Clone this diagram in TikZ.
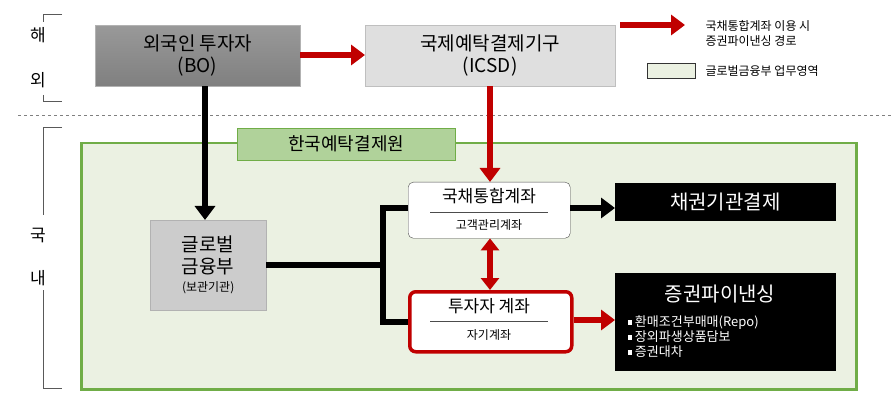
\documentclass[tikz,border=0pt]{standalone}
\usepackage{fontspec}
\setmainfont{Noto Sans CJK KR}
\usetikzlibrary{arrows.meta}
\definecolor{gfill}{RGB}{235,241,226}
\definecolor{gline}{RGB}{112,173,71}
\definecolor{rarr}{RGB}{192,0,0}
\newcommand{\sqb}{\rule[2pt]{4.5pt}{4.5pt}}
\begin{document}
\begin{tikzpicture}[x=1pt,y=-1pt,
 blk/.style={fill=black,text=white,draw=black},
 barr/.style={line width=6pt,-{Triangle[length=14pt,width=20pt]}},
 rarrow/.style={rarr,line width=6pt,-{Triangle[length=14pt,width=20pt]}},
 brk/.style={gray!70!black,line width=1pt},
 side/.style={font=\fontsize{17}{18}\selectfont}]
\useasboundingbox[fill=white] (0,0) rectangle (894,406);
% brackets
\draw[brk] (62,15)--(43,15)--(43,22) (43,95)--(43,102)--(62,102);
\draw[brk] (62,128)--(43,128)--(43,215) (43,290)--(43,388)--(62,388);
\node[side] (hae) at (38,35) {해};
\node[side] (oe) at (38,80) {외};
\node[side] (guk) at (38,235) {국};
\node[side] (nae) at (38,278) {내};
\draw[gray,dashed,line width=0.8pt] (18,115)--(894,115);
% green region
\node[draw=gline,line width=2.5pt,fill=gfill,minimum width=775,minimum height=246,anchor=north west,inner sep=0] (area) at (80,142) {};
\node[draw=gline,fill=gline!55,minimum width=218,minimum height=32,anchor=north west,inner sep=0,font=\fontsize{18}{20}\selectfont] (ksd) at (237,128) {한국예탁결제원};
% top boxes
\node[draw=gray!60,top color=gray!80,bottom color=gray,minimum width=205,minimum height=61,anchor=north west,inner sep=0,align=center,font=\fontsize{19}{22}\selectfont] (bo) at (95,25) {외국인 투자자\\(BO)};
\node[draw=gray!50,fill=gray!25,minimum width=250,minimum height=61,anchor=north west,inner sep=0,align=center,font=\fontsize{19}{22}\selectfont] (icsd) at (365,25) {국제예탁결제기구\\(ICSD)};
% global
\node[draw=gray!60,fill=gray!40,minimum width=116,minimum height=90,anchor=north west,inner sep=0,align=center,font=\fontsize{19}{22}\selectfont] (glob) at (150,220) {글로벌\\금융부\\[-4pt]{\fontsize{12}{13}\selectfont(보관기관)}};
% accounts
\node[draw=black!70,fill=white,rounded corners=5pt,minimum width=162,minimum height=56,anchor=north west,inner sep=0] (kb) at (408,182) {};
\node[font=\fontsize{17}{18}\selectfont] (kbt) at (489,196) {국채통합계좌};
\node[font=\fontsize{12}{13}\selectfont] (kbs) at (489,225) {고객관리계좌};
\draw[black!70] (430,212)--(548,212);
\node[draw=rarr,line width=3.5pt,fill=white,rounded corners=6pt,minimum width=162,minimum height=60,anchor=north west,inner sep=0] (inv) at (408,290) {};
\node[font=\fontsize{17}{18}\selectfont] (invt) at (489,306) {투자자 계좌};
\node[font=\fontsize{12}{13}\selectfont] (invs) at (489,335) {자기계좌};
\draw[black!70] (430,321)--(548,321);
% black boxes
\node[blk,minimum width=220,minimum height=37,anchor=north west,inner sep=0,font=\fontsize{20}{22}\selectfont] (bond) at (615,183) {채권기관결제};
\node[blk,minimum width=220,minimum height=97,anchor=north west,inner sep=0] (sf) at (615,273) {};
\node[text=white,font=\fontsize{20}{22}\selectfont] (sft) at (720,294) {증권파이낸싱};
\node[text=white,anchor=west,align=left,font=\fontsize{13}{15}\selectfont] (sfl) at (624,337) {\sqb{} 환매조건부매매(Repo)\\\sqb{} 장외파생상품담보\\\sqb{} 증권대차};
% connectors
\draw[rarrow] (bo.east|-0,55) -- (icsd.west|-0,55);
\draw[barr] (bo.south-|205,0) -- (glob.north-|205,0);
\draw[rarrow] (icsd.south-|490,0) -- (kb.north-|490,0);
\draw[rarr,line width=6pt,{Triangle[length=12pt,width=18pt]}-{Triangle[length=12pt,width=18pt]}] (kb.south-|490,0) -- (inv.north-|490,0);
\coordinate (j) at (383,265);
\draw[line width=6pt] (glob.east|-j) -- (j);
\draw[line width=6pt] (kb.west|-0,208) -- (383,208) -- (383,322) -- (inv.west|-0,322);
\draw[barr] (kb.east|-0,208) -- (bond.west|-0,208);
\draw[rarrow] (inv.east|-0,320) -- (sf.west|-0,320);
% legend
\coordinate (la) at (620,25);
\coordinate (lb) at (685,25);
\draw[rarrow] (la) -- (lb);
\node[anchor=west,align=left,font=\fontsize{12}{15}\selectfont] (lt) at (702,33) {국채통합계좌 이용 시\\증권파이낸싱 경로};
\node[draw=black!80,fill=gfill,minimum width=48,minimum height=15,anchor=north west,inner sep=0] (lg) at (647,63) {};
\node[anchor=west,font=\fontsize{12}{13}\selectfont] (lgt) at (702,71) {글로벌금융부 업무영역};
\end{tikzpicture}
\end{document}
